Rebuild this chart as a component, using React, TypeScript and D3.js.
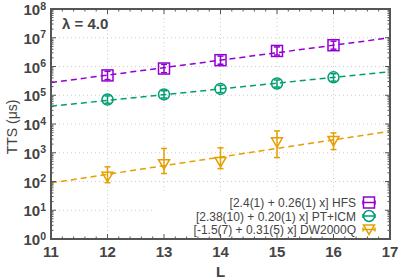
import React from 'react';
import * as d3 from 'd3';

// system sizes
const sizes = [12, 13, 14, 15, 16];

// HFS: time-to-solution (µs) with error range
const hfsTTS = [4.9e5, 8.5e5, 1.66e6, 3.47e6, 5.5e6];
const hfsLo = [3.5e5, 6.1e5, 1.2e6, 2.5e6, 4.0e6];
const hfsHi = [6.8e5, 1.18e6, 2.3e6, 4.8e6, 7.6e6];

// PT+ICM
const ptTTS = [7.1e4, 1.07e5, 1.66e5, 2.57e5, 4.2e5];
const ptLo = [5.3e4, 8.0e4, 1.24e5, 1.92e5, 3.1e5];
const ptHi = [9.5e4, 1.43e5, 2.2e5, 3.4e5, 5.6e5];

// DW2000Q
const dwTTS = [145, 400, 480, 2300, 2570];
const dwLo = [91, 190, 280, 680, 1290];
const dwHi = [324, 1410, 1480, 5750, 4900];

// fitted lines log10(TTS) = a + b L
const fitA = [2.58, 2.42, -1.35];
const fitB = [0.26, 0.2, 0.3];

const legendLabels = [
  '[2.4(1) + 0.26(1) x] HFS',
  '[2.38(10) + 0.20(1) x] PT+ICM',
  '[-1.5(7) + 0.31(5) x] DW2000Q',
];
const colors = ['#9400d3', '#009e73', '#e69f00'];

const xTicks = [11, 12, 13, 14, 15, 16, 17];
const yExps = [0, 1, 2, 3, 4, 5, 6, 7, 8];

const W = 399;
const H = 279;
const margin = { top: 9, right: 9, bottom: 40, left: 51 };
const textColor = '#444';
const font = "'Liberation Sans', Arial, sans-serif";

const App: React.FC = () => {
  const x = d3.scaleLinear().domain([11, 17]).range([margin.left, W - margin.right]);
  const y = d3.scaleLog().domain([1, 1e8]).range([H - margin.bottom, margin.top]);
  const [x0, x1] = x.range();
  const [y0, y1] = y.range();

  const series = [
    { tts: hfsTTS, lo: hfsLo, hi: hfsHi, shape: 'square' },
    { tts: ptTTS, lo: ptLo, hi: ptHi, shape: 'circle' },
    { tts: dwTTS, lo: dwLo, hi: dwHi, shape: 'tri' },
  ];

  const marker = (shape: string, cx: number, cy: number, c: string, key: string) => {
    if (shape === 'square')
      return <rect key={key} x={cx - 5.5} y={cy - 5.5} width={11} height={11} fill="none" stroke={c} strokeWidth={1.5} />;
    if (shape === 'circle')
      return <circle key={key} cx={cx} cy={cy} r={5.5} fill="none" stroke={c} strokeWidth={1.5} />;
    const p = d3.path();
    p.moveTo(cx - 5.5, cy - 4.5);
    p.lineTo(cx + 5.5, cy - 4.5);
    p.lineTo(cx, cy + 5);
    p.closePath();
    return <path key={key} d={p.toString()} fill="none" stroke={c} strokeWidth={1.5} />;
  };

  // minor ticks
  const xMinor: number[] = [];
  for (let v = 11; v < 17; v++) for (let k = 1; k < 5; k++) xMinor.push(v + k * 0.2);
  const yMinor: number[] = [];
  for (let e = 0; e < 8; e++) for (let k = 2; k < 10; k++) yMinor.push(k * Math.pow(10, e));

  const legX = 369;
  const legY = [202.5, 216, 229.5];

  return (
    <svg width={W} height={H} style={{ position: 'fixed', left: 0, top: 0, background: '#fff' }} fontFamily={font}>
      {/* grid */}
      <g stroke="#ccc" strokeWidth={1} strokeDasharray="1,3">
        {xTicks.slice(1, -1).map(v => <line key={'gx' + v} x1={x(v)} x2={x(v)} y1={y0} y2={y1} />)}
        {yExps.slice(1, -1).map(e => <line key={'gy' + e} x1={x0} x2={x1} y1={y(Math.pow(10, e))} y2={y(Math.pow(10, e))} />)}
      </g>

      {/* fits */}
      {fitA.map((a, i) => (
        <path key={'fit' + i}
          d={d3.line<number>().x(d => x(d)).y(d => y(Math.pow(10, a + fitB[i] * d)))(x.domain()) || ''}
          fill="none" stroke={colors[i]} strokeWidth={1.5} strokeDasharray="6,4" />
      ))}

      {/* data */}
      {series.map((s, i) => (
        <g key={'s' + i}>
          {sizes.map((L, j) => {
            const cx = x(L);
            return (
              <g key={j}>
                <line x1={cx} x2={cx} y1={y(s.lo[j])} y2={y(s.hi[j])} stroke={colors[i]} strokeWidth={1.5} />
                <line x1={cx - 3} x2={cx + 3} y1={y(s.lo[j])} y2={y(s.lo[j])} stroke={colors[i]} strokeWidth={1.5} />
                <line x1={cx - 3} x2={cx + 3} y1={y(s.hi[j])} y2={y(s.hi[j])} stroke={colors[i]} strokeWidth={1.5} />
                {marker(s.shape, cx, y(s.tts[j]), colors[i], 'm' + j)}
              </g>
            );
          })}
        </g>
      ))}

      {/* legend */}
      <rect x={155} y={194} width={232} height={43} fill="#fff" />
      {legendLabels.map((t, i) => (
        <g key={'leg' + i}>
          <text x={356} y={legY[i] + 4.5} textAnchor="end" fontSize={12} fill={textColor}>{t}</text>
          <line x1={legX - 6} x2={legX + 6} y1={legY[i]} y2={legY[i]} stroke={colors[i]} strokeWidth={1.5} />
          <line x1={legX - 6} x2={legX - 6} y1={legY[i] - 2} y2={legY[i] + 2} stroke={colors[i]} strokeWidth={1.5} />
          <line x1={legX + 6} x2={legX + 6} y1={legY[i] - 2} y2={legY[i] + 2} stroke={colors[i]} strokeWidth={1.5} />
          {marker(series[i].shape, legX, legY[i], colors[i], 'lm' + i)}
        </g>
      ))}

      {/* ticks */}
      <g stroke="#555" strokeWidth={1}>
        {xTicks.map(v => (
          <g key={'xt' + v}>
            <line x1={x(v)} x2={x(v)} y1={y0} y2={y0 - 5} />
            <line x1={x(v)} x2={x(v)} y1={y1} y2={y1 + 5} />
          </g>
        ))}
        {xMinor.map((v, i) => (
          <g key={'xm' + i}>
            <line x1={x(v)} x2={x(v)} y1={y0} y2={y0 - 2.5} />
            <line x1={x(v)} x2={x(v)} y1={y1} y2={y1 + 2.5} />
          </g>
        ))}
        {yExps.map(e => (
          <g key={'yt' + e}>
            <line x1={x0} x2={x0 + 5} y1={y(Math.pow(10, e))} y2={y(Math.pow(10, e))} />
            <line x1={x1} x2={x1 - 5} y1={y(Math.pow(10, e))} y2={y(Math.pow(10, e))} />
          </g>
        ))}
        {yMinor.map((v, i) => (
          <g key={'ym' + i}>
            <line x1={x0} x2={x0 + 2.5} y1={y(v)} y2={y(v)} />
            <line x1={x1} x2={x1 - 2.5} y1={y(v)} y2={y(v)} />
          </g>
        ))}
      </g>

      {/* frame */}
      <rect x={x0} y={y1} width={x1 - x0} height={y0 - y1} fill="none" stroke="#555" strokeWidth={2} />

      {/* tick labels */}
      <g fill={textColor} fontWeight="bold">
        {xTicks.map(v => (
          <text key={'xl' + v} x={x(v)} y={y0 + 18} textAnchor="middle" fontSize={15}>{v}</text>
        ))}
        {yExps.map(e => (
          <text key={'yl' + e} x={46} y={y(Math.pow(10, e)) + 6} textAnchor="end" fontSize={15}>
            10<tspan fontSize={10.5} dy={-5.5}>{e}</tspan>
          </text>
        ))}
        <text x={(x0 + x1) / 2} y={277} textAnchor="middle" fontSize={15}>L</text>
        <text transform={`translate(17,127) rotate(-90)`} textAnchor="middle" fontSize={14} fontWeight="normal">TTS (μs)</text>
        <text x={62} y={29} fontSize={15}>λ = 4.0</text>
      </g>
    </svg>
  );
};

export default App;
